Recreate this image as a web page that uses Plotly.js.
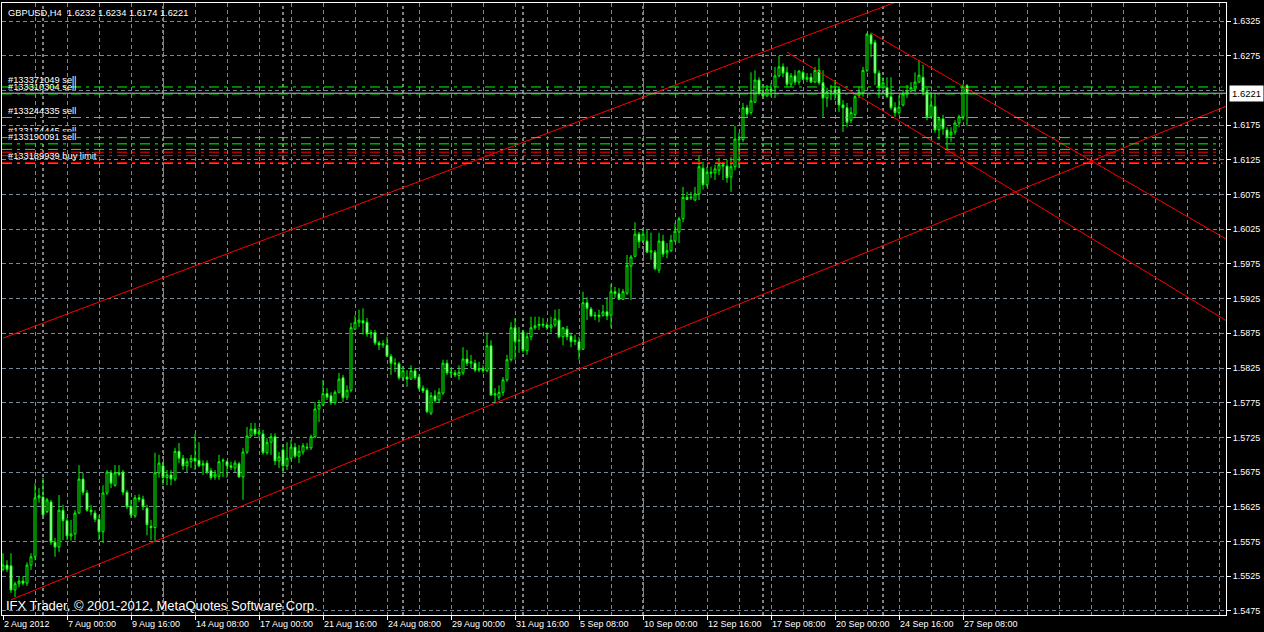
<!DOCTYPE html>
<html>
<head>
<meta charset="utf-8">
<script src="https://cdn.plot.ly/plotly-3.0.1.min.js"></script>
<style>
html,body{margin:0;padding:0;background:#000;}
#chart{width:1264px;height:632px;}
</style>
</head>
<body>
<div id="chart"></div>
<script>
// ---------- DATA (GBPUSD H4, one value per 4-hour bar, first bar 2 Aug 2012 08:00) ----------
const headerText = "GBPUSD,H4\u00a0\u00a01.6232 1.6234 1.6174 1.6221";
const footerText = "IFX Trader, \u00a9 2001-2012, MetaQuotes Software Corp.";

const opens = [
1.5535,1.5541,1.5540,1.5505,1.5514,1.5518,1.5515,1.5541,1.5553,1.5638,
1.5639,1.5618,1.5632,1.5574,1.5567,1.5620,1.5605,1.5583,1.5586,1.5616,
1.5665,1.5645,1.5620,1.5616,1.5607,1.5589,1.5645,1.5674,1.5656,1.5674,
1.5675,1.5646,1.5626,1.5612,1.5638,1.5636,1.5623,1.5597,1.5595,1.5674,
1.5684,1.5667,1.5671,1.5665,1.5705,1.5695,1.5684,1.5690,1.5695,1.5692,
1.5685,1.5688,1.5677,1.5668,1.5669,1.5691,1.5690,1.5684,1.5681,1.5687,
1.5668,1.5704,1.5727,1.5737,1.5730,1.5730,1.5703,1.5718,1.5726,1.5691,
1.5707,1.5684,1.5695,1.5711,1.5698,1.5704,1.5711,1.5710,1.5726,1.5766,
1.5772,1.5788,1.5785,1.5775,1.5790,1.5811,1.5783,1.5793,1.5881,1.5891,
1.5893,1.5891,1.5874,1.5876,1.5861,1.5858,1.5858,1.5842,1.5832,1.5831,
1.5811,1.5812,1.5809,1.5821,1.5812,1.5796,1.5793,1.5760,1.5785,1.5779,
1.5789,1.5832,1.5818,1.5818,1.5814,1.5818,1.5838,1.5832,1.5832,1.5822,
1.5824,1.5821,1.5857,1.5786,1.5783,1.5790,1.5808,1.5837,1.5883,1.5864,
1.5877,1.5850,1.5870,1.5883,1.5886,1.5888,1.5887,1.5883,1.5887,1.5894,
1.5870,1.5881,1.5871,1.5863,1.5863,1.5852,1.5919,1.5910,1.5900,1.5901,
1.5901,1.5906,1.5901,1.5935,1.5932,1.5924,1.5933,1.5972,1.5986,1.6018,
1.6008,1.6008,1.5992,1.5992,1.5966,1.6008,1.5991,1.5994,1.6008,1.6021,
1.6040,1.6071,1.6070,1.6067,1.6076,1.6113,1.6089,1.6107,1.6106,1.6110,
1.6118,1.6116,1.6100,1.6115,1.6155,1.6154,1.6200,1.6193,1.6208,1.6240,
1.6221,1.6217,1.6227,1.6230,1.6246,1.6259,1.6251,1.6234,1.6246,1.6237,
1.6251,1.6241,1.6244,1.6237,1.6254,1.6236,1.6214,1.6223,1.6226,1.6227,
1.6204,1.6200,1.6182,1.6190,1.6218,1.6221,1.6254,1.6305,1.6294,1.6250,
1.6229,1.6229,1.6216,1.6200,1.6193,1.6204,1.6220,1.6224,1.6227,1.6237,
1.6244,1.6223,1.6187,1.6202,1.6168,1.6184,1.6168,1.6161,1.6165,1.6178,
1.6187,1.6232];

const highs = [
1.5558,1.5548,1.5558,1.5517,1.5524,1.5525,1.5545,1.5558,1.5659,1.5652,
1.5667,1.5638,1.5635,1.5580,1.5642,1.5628,1.5609,1.5606,1.5620,1.5685,
1.5674,1.5649,1.5628,1.5620,1.5613,1.5656,1.5678,1.5678,1.5685,1.5685,
1.5678,1.5649,1.5635,1.5642,1.5643,1.5641,1.5628,1.5606,1.5703,1.5700,
1.5690,1.5678,1.5678,1.5710,1.5717,1.5700,1.5695,1.5700,1.5730,1.5718,
1.5692,1.5692,1.5681,1.5678,1.5700,1.5695,1.5692,1.5690,1.5692,1.5690,
1.5710,1.5740,1.5746,1.5746,1.5739,1.5736,1.5724,1.5731,1.5731,1.5704,
1.5714,1.5718,1.5721,1.5717,1.5714,1.5717,1.5717,1.5729,1.5776,1.5779,
1.5808,1.5796,1.5790,1.5793,1.5818,1.5815,1.5800,1.5890,1.5901,1.5909,
1.5911,1.5897,1.5880,1.5880,1.5864,1.5865,1.5870,1.5845,1.5839,1.5834,
1.5825,1.5822,1.5829,1.5825,1.5816,1.5800,1.5796,1.5790,1.5793,1.5796,
1.5837,1.5837,1.5825,1.5822,1.5829,1.5855,1.5851,1.5844,1.5837,1.5834,
1.5829,1.5876,1.5865,1.5796,1.5800,1.5812,1.5844,1.5891,1.5897,1.5884,
1.5880,1.5876,1.5899,1.5899,1.5899,1.5897,1.5891,1.5899,1.5909,1.5910,
1.5884,1.5886,1.5876,1.5873,1.5870,1.5935,1.5927,1.5913,1.5906,1.5909,
1.5916,1.5927,1.5946,1.5942,1.5940,1.5939,1.5988,1.5988,1.6035,1.6021,
1.6024,1.6024,1.6020,1.5995,1.6020,1.6017,1.6005,1.6017,1.6034,1.6043,
1.6086,1.6079,1.6079,1.6086,1.6132,1.6122,1.6115,1.6115,1.6118,1.6128,
1.6122,1.6125,1.6129,1.6174,1.6164,1.6207,1.6204,1.6251,1.6254,1.6244,
1.6230,1.6233,1.6236,1.6259,1.6275,1.6264,1.6259,1.6250,1.6254,1.6254,
1.6254,1.6250,1.6250,1.6259,1.6272,1.6254,1.6229,1.6233,1.6240,1.6230,
1.6211,1.6207,1.6201,1.6218,1.6230,1.6259,1.6308,1.6308,1.6298,1.6254,
1.6244,1.6244,1.6244,1.6208,1.6218,1.6226,1.6233,1.6237,1.6251,1.6269,
1.6262,1.6229,1.6223,1.6221,1.6187,1.6190,1.6172,1.6172,1.6182,1.6190,
1.6234,1.6234];

const lows = [
1.5532,1.5531,1.5501,1.5495,1.5509,1.5512,1.5511,1.5534,1.5548,1.5631,
1.5612,1.5616,1.5570,1.5553,1.5560,1.5577,1.5577,1.5576,1.5577,1.5615,
1.5642,1.5618,1.5613,1.5603,1.5577,1.5573,1.5642,1.5652,1.5654,1.5669,
1.5642,1.5622,1.5609,1.5609,1.5632,1.5620,1.5584,1.5577,1.5574,1.5667,
1.5656,1.5656,1.5656,1.5662,1.5688,1.5678,1.5675,1.5681,1.5678,1.5682,
1.5671,1.5672,1.5664,1.5664,1.5664,1.5668,1.5667,1.5678,1.5675,1.5667,
1.5635,1.5701,1.5726,1.5727,1.5724,1.5700,1.5700,1.5700,1.5685,1.5681,
1.5674,1.5678,1.5692,1.5695,1.5688,1.5700,1.5707,1.5707,1.5724,1.5747,
1.5770,1.5779,1.5772,1.5772,1.5789,1.5776,1.5779,1.5790,1.5880,1.5884,
1.5873,1.5870,1.5868,1.5858,1.5851,1.5854,1.5841,1.5815,1.5819,1.5808,
1.5808,1.5798,1.5808,1.5808,1.5793,1.5789,1.5760,1.5757,1.5775,1.5776,
1.5786,1.5815,1.5811,1.5812,1.5808,1.5815,1.5828,1.5825,1.5819,1.5819,
1.5818,1.5819,1.5785,1.5775,1.5779,1.5785,1.5805,1.5834,1.5837,1.5847,
1.5847,1.5844,1.5865,1.5880,1.5880,1.5883,1.5880,1.5876,1.5884,1.5868,
1.5858,1.5865,1.5855,1.5858,1.5837,1.5851,1.5894,1.5899,1.5894,1.5891,
1.5899,1.5894,1.5883,1.5926,1.5923,1.5923,1.5930,1.5923,1.5985,1.5998,
1.6007,1.5991,1.5981,1.5966,1.5962,1.5985,1.5983,1.5992,1.6007,1.6005,
1.6035,1.6067,1.6067,1.6066,1.6067,1.6082,1.6086,1.6099,1.6096,1.6103,
1.6096,1.6092,1.6079,1.6110,1.6113,1.6151,1.6187,1.6190,1.6207,1.6218,
1.6216,1.6216,1.6216,1.6214,1.6244,1.6244,1.6230,1.6230,1.6233,1.6233,
1.6240,1.6237,1.6236,1.6236,1.6233,1.6187,1.6201,1.6211,1.6211,1.6194,
1.6165,1.6172,1.6178,1.6187,1.6214,1.6216,1.6251,1.6273,1.6233,1.6214,
1.6226,1.6214,1.6197,1.6187,1.6190,1.6202,1.6214,1.6223,1.6223,1.6236,
1.6218,1.6182,1.6185,1.6164,1.6154,1.6161,1.6139,1.6151,1.6161,1.6172,
1.6182,1.6174];

const closes = [
1.5541,1.5535,1.5505,1.5514,1.5518,1.5515,1.5541,1.5553,1.5638,1.5641,
1.5613,1.5635,1.5574,1.5567,1.5620,1.5605,1.5583,1.5586,1.5616,1.5665,
1.5646,1.5620,1.5618,1.5607,1.5589,1.5645,1.5675,1.5659,1.5674,1.5672,
1.5646,1.5625,1.5613,1.5638,1.5636,1.5625,1.5599,1.5595,1.5674,1.5688,
1.5667,1.5671,1.5665,1.5705,1.5695,1.5684,1.5690,1.5695,1.5691,1.5684,
1.5687,1.5675,1.5667,1.5672,1.5690,1.5692,1.5684,1.5682,1.5688,1.5668,
1.5704,1.5727,1.5737,1.5730,1.5733,1.5703,1.5718,1.5726,1.5691,1.5697,
1.5684,1.5695,1.5711,1.5698,1.5705,1.5713,1.5710,1.5726,1.5766,1.5772,
1.5788,1.5783,1.5775,1.5790,1.5809,1.5782,1.5793,1.5883,1.5891,1.5894,
1.5890,1.5874,1.5876,1.5861,1.5858,1.5860,1.5842,1.5832,1.5831,1.5811,
1.5821,1.5809,1.5821,1.5811,1.5796,1.5792,1.5762,1.5785,1.5778,1.5790,
1.5832,1.5818,1.5819,1.5815,1.5819,1.5838,1.5832,1.5834,1.5822,1.5824,
1.5821,1.5857,1.5786,1.5788,1.5790,1.5808,1.5837,1.5883,1.5863,1.5865,
1.5850,1.5870,1.5883,1.5886,1.5888,1.5887,1.5883,1.5887,1.5896,1.5870,
1.5883,1.5870,1.5863,1.5865,1.5851,1.5919,1.5911,1.5900,1.5901,1.5899,
1.5906,1.5900,1.5935,1.5932,1.5924,1.5935,1.5973,1.5985,1.6018,1.6007,
1.6018,1.5992,1.5994,1.5968,1.6008,1.5989,1.5994,1.6009,1.6022,1.6040,
1.6071,1.6068,1.6071,1.6076,1.6115,1.6089,1.6107,1.6106,1.6112,1.6118,
1.6116,1.6099,1.6115,1.6155,1.6154,1.6200,1.6191,1.6210,1.6240,1.6221,
1.6217,1.6227,1.6224,1.6246,1.6259,1.6250,1.6234,1.6246,1.6237,1.6253,
1.6241,1.6244,1.6237,1.6254,1.6236,1.6214,1.6223,1.6224,1.6221,1.6204,
1.6200,1.6179,1.6193,1.6216,1.6223,1.6254,1.6306,1.6292,1.6250,1.6229,
1.6236,1.6216,1.6200,1.6193,1.6201,1.6220,1.6224,1.6229,1.6237,1.6247,
1.6223,1.6187,1.6204,1.6168,1.6184,1.6170,1.6158,1.6165,1.6178,1.6187,
1.6231,1.6221];

// time-axis labels (bar index -> label)
const timeTickBars = [0,16,32,48,64,80,96,112,128,144,160,176,192,208,224,240];
const timeTickLabels = ["2 Aug 2012","7 Aug 00:00","9 Aug 16:00","14 Aug 08:00","17 Aug 00:00",
  "21 Aug 16:00","24 Aug 08:00","29 Aug 00:00","31 Aug 16:00","5 Sep 08:00","10 Sep 00:00",
  "12 Sep 16:00","17 Sep 08:00","20 Sep 00:00","24 Sep 16:00","27 Sep 08:00"];
// Monday 00:00 bars (period separators)
const weekStartBars = [10,40,70,100,130,160,190,220];

// price-axis labels
const priceTicks = [1.5475,1.5525,1.5575,1.5625,1.5675,1.5725,1.5775,1.5825,1.5875,1.5925,
  1.5975,1.6025,1.6075,1.6125,1.6175,1.6275,1.6325];
const priceGrid = [1.5475,1.5525,1.5575,1.5625,1.5675,1.5725,1.5775,1.5825,1.5875,1.5925,
  1.5975,1.6025,1.6075,1.6125,1.6175,1.6225,1.6275,1.6325];
const bidPrice = 1.6221;

// pending / open orders
const orderLabels = ["#133371049 sell","#133310304 sell","#133244335 sell","#133174445 sell","",
  "#133189939 buy limit","#133190091 sell"];
const orderPrices = [1.6230,1.6220,1.6186,1.6157,1.6140,1.6120,1.6148];
const stopLevels = [1.6136,1.6131,1.6121];

// trend lines: two anchor points each (bar index, price), drawn as rays to the right
const trendBar1 = [2, 0, 196, 217];
const trendPrice1 = [1.5491, 1.5868, 1.6280, 1.6308];
const trendBar2 = [172, 206, 240, 240];
const trendPrice2 = [1.5889, 1.6315, 1.6125, 1.6231];

// ---------- CHART ----------
const FONT = "Liberation Sans, Arial, sans-serif";
const xRange = [-0.25, 305.75];
const yRange = [1.54691, 1.63510];
const barIdx = opens.map((_, i) => i);
const GRID = "#778899";

const traces = [{
  type: "candlestick",
  x: barIdx, open: opens, high: highs, low: lows, close: closes,
  increasing: {line: {color: "#00ff00", width: 1}, fillcolor: "#000000"},
  decreasing: {line: {color: "#00ff00", width: 1}, fillcolor: "#ffffff"},
  whiskerwidth: 0,
  hoverinfo: "skip",
  showlegend: false
}];

for (let i = 0; i < trendBar1.length; i++) {
  const s = (trendPrice2[i] - trendPrice1[i]) / (trendBar2[i] - trendBar1[i]);
  traces.push({
    type: "scatter", mode: "lines",
    x: [trendBar1[i], xRange[1]],
    y: [trendPrice1[i], trendPrice1[i] + s * (xRange[1] - trendBar1[i])],
    line: {color: "#ff0000", width: 1},
    hoverinfo: "skip", showlegend: false
  });
}

const shapes = [];
weekStartBars.forEach(b => shapes.push({
  type: "line", xref: "x", yref: "paper", x0: b, x1: b, y0: 0, y1: 1,
  line: {color: "#ffffff", width: 1, dash: "3px,3px"}, layer: "below"
}));
shapes.push({
  type: "line", xref: "paper", yref: "y", x0: 0, x1: 1, y0: bidPrice, y1: bidPrice,
  line: {color: "#c0c0c0", width: 1}, layer: "above"
});
orderPrices.forEach(p => shapes.push({
  type: "line", xref: "paper", yref: "y", x0: 0, x1: 0.997, y0: p, y1: p,
  line: {color: "#00ff00", width: 1, dash: "10px,5px,3px,5px"}, layer: "above"
}));
stopLevels.forEach(p => shapes.push({
  type: "line", xref: "paper", yref: "y", x0: 0, x1: 0.997, y0: p, y1: p,
  line: {color: "#ff0000", width: 1, dash: "10px,5px,3px,5px"}, layer: "above"
}));

const annotations = [];
annotations.push({
  xref: "paper", yref: "paper", x: 0, y: 1, xanchor: "left", yanchor: "top",
  xshift: 4, yshift: -3, showarrow: false, text: headerText,
  font: {family: FONT, size: 9.3, color: "#ffffff"}
});
annotations.push({
  xref: "paper", yref: "paper", x: 0, y: 0, xanchor: "left", yanchor: "bottom",
  xshift: 2, yshift: 0, showarrow: false, text: footerText,
  font: {family: FONT, size: 13, color: "#ffffff"}
});
orderLabels.forEach((t, i) => {
  if (!t) return;
  const top = (i === orderLabels.length - 1);
  annotations.push({
    xref: "paper", yref: "y", x: 0, y: orderPrices[i], xanchor: "left", yanchor: "middle",
    xshift: 5, yshift: 7, showarrow: false, text: t,
    bgcolor: top ? "#000000" : "rgba(0,0,0,0)", borderpad: 0,
    font: {family: FONT, size: 9.3, color: "#ffffff"}
  });
});
annotations.push({
  xref: "paper", yref: "y", x: 1, y: bidPrice, xanchor: "left", yanchor: "middle",
  xshift: 3, showarrow: false, text: bidPrice.toFixed(4),
  bgcolor: "#ffffff", borderpad: 2,
  font: {family: FONT, size: 9.5, color: "#000000"}
});

const layout = {
  width: 1264, height: 632,
  paper_bgcolor: "#000000", plot_bgcolor: "#000000",
  margin: {l: 2, r: 38, t: 3, b: 17, pad: 0},
  showlegend: false,
  hovermode: false,
  xaxis: {
    range: xRange, rangeslider: {visible: false}, fixedrange: true,
    tickmode: "array", tickvals: timeTickBars, ticktext: timeTickLabels,
    ticks: "outside", ticklen: 4, tickcolor: "#ffffff", tickwidth: 1,
    ticklabelposition: "outside right",
    tickfont: {family: FONT, size: 9, color: "#ffffff"},
    showgrid: true, gridcolor: GRID, griddash: "4px,3px", gridwidth: 1,
    minor: {dtick: 8, tick0: 0, showgrid: true, gridcolor: GRID, griddash: "4px,3px", gridwidth: 1, ticks: ""},
    showline: true, linecolor: "#ffffff", linewidth: 1, mirror: true,
    zeroline: false
  },
  yaxis: {
    range: yRange, side: "right", fixedrange: true,
    tickmode: "array", tickvals: priceTicks, ticktext: priceTicks.map(v => v.toFixed(4)),
    ticks: "outside", ticklen: 4, tickcolor: "#ffffff", tickwidth: 1,
    tickfont: {family: FONT, size: 9, color: "#ffffff"},
    showgrid: true, gridcolor: GRID, griddash: "4px,3px", gridwidth: 1,
    minor: {tickmode: "array", tickvals: priceGrid, showgrid: true, gridcolor: GRID, griddash: "4px,3px", gridwidth: 1, ticks: ""},
    showline: true, linecolor: "#ffffff", linewidth: 1, mirror: true,
    zeroline: false
  },
  shapes: shapes,
  annotations: annotations
};

Plotly.newPlot("chart", traces, layout, {staticPlot: true, displayModeBar: false});
</script>
</body>
</html>
